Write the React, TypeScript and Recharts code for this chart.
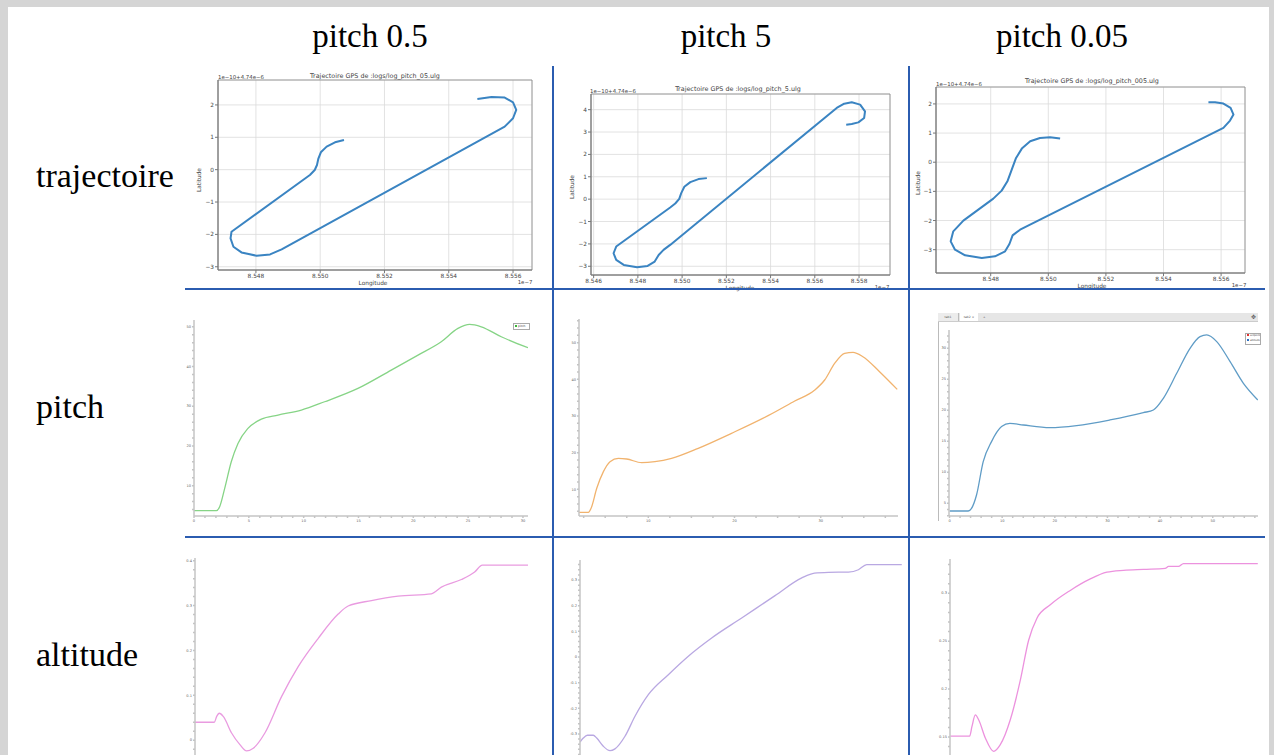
import React from 'react';
import { LineChart, Line, XAxis, YAxis, CartesianGrid, ReferenceArea } from 'recharts';

// --- row "trajectoire" (GPS, lon in 1e-7 units, lat offset 1e-10) ---
const traj05Lon = [8.55074, 8.55046, 8.5502, 8.55002, 8.54994, 8.5499, 8.54983, 8.54968, 8.54724, 8.54721, 8.5473, 8.54755, 8.54802, 8.54844, 8.5488, 8.55574, 8.556, 8.5561, 8.556, 8.55574, 8.55533, 8.55489];
const traj05Lat = [0.918, 0.845, 0.711, 0.536, 0.33, 0.144, -0.01, -0.165, -1.918, -2.124, -2.381, -2.557, -2.66, -2.619, -2.464, 1.33, 1.588, 1.845, 2.082, 2.227, 2.247, 2.186];

const traj5Lon = [8.55112, 8.55074, 8.55037, 8.5501, 8.54996, 8.54987, 8.54969, 8.54946, 8.54702, 8.5469, 8.54702, 8.54736, 8.54796, 8.54844, 8.54876, 8.54894, 8.54916, 8.54946, 8.55699, 8.55733, 8.55767, 8.55805, 8.55827, 8.55823, 8.55797, 8.55767, 8.55742];
const traj5Lat = [0.94, 0.896, 0.761, 0.552, 0.269, 0.015, -0.194, -0.373, -2.119, -2.418, -2.716, -2.94, -3.045, -2.985, -2.791, -2.493, -2.269, -2.045, 4.075, 4.269, 4.328, 4.224, 3.925, 3.627, 3.433, 3.358, 3.328];

const traj005Lon = [8.55041, 8.55006, 8.54971, 8.54937, 8.54908, 8.54888, 8.54873, 8.54858, 8.54838, 8.54809, 8.54705, 8.5467, 8.54661, 8.54676, 8.54711, 8.54769, 8.54815, 8.5485, 8.54865, 8.54876, 8.54902, 8.55608, 8.55631, 8.55643, 8.55633, 8.55608, 8.55579, 8.55556];
const traj005Lat = [0.81, 0.856, 0.833, 0.719, 0.467, 0.146, -0.254, -0.654, -0.975, -1.249, -2.005, -2.371, -2.714, -3.0, -3.195, -3.286, -3.229, -3.057, -2.805, -2.508, -2.314, 1.176, 1.428, 1.634, 1.863, 2.011, 2.057, 2.057];

// --- row "pitch" ---
const pitch05Time = [0, 2.04, 2.34, 2.8, 3.4, 4.01, 4.92, 6.14, 7.66, 9.79, 11.91, 14.95, 17.99, 20.43, 22.55, 24.07, 25.14, 26.2, 28.02, 30.46];
const pitch05Deg = [3.71, 3.71, 4.72, 9.33, 16.04, 20.65, 24.42, 26.77, 27.78, 29.04, 31.13, 34.49, 39.1, 42.87, 46.23, 49.58, 50.59, 50.0, 47.48, 44.72];

const pitch5Time = [1.97, 3.05, 3.36, 4.02, 4.79, 5.56, 6.53, 7.49, 9.23, 10.77, 12.7, 15.79, 19.65, 23.9, 26.99, 29.31, 30.46, 31.62, 32.78, 33.75, 34.9, 36.83, 38.88];
const pitch5Deg = [3.73, 3.73, 4.82, 10.27, 14.82, 17.55, 18.45, 18.27, 17.27, 17.55, 18.45, 21.18, 25.27, 30.09, 34.09, 37.09, 39.82, 44.36, 47.09, 47.36, 46.18, 42.09, 37.27];

const pitch005Time = [0, 3.55, 4.18, 5.13, 6.4, 7.98, 9.89, 11.47, 14.01, 19.07, 24.14, 30.48, 36.82, 38.72, 40.62, 43.16, 45.69, 47.59, 48.86, 50.76, 53.3, 55.83, 58.56];
const pitch005Deg = [3.76, 3.76, 4.19, 6.34, 11.72, 14.95, 17.37, 17.9, 17.63, 17.2, 17.53, 18.44, 19.62, 20.05, 21.94, 25.97, 30.0, 31.88, 32.15, 31.08, 27.85, 24.35, 21.67];

// --- row "altitude" ---
const alt05Time = [0, 1.76, 1.98, 2.22, 2.58, 3.34, 4.1, 4.71, 5.32, 6.38, 7.9, 9.42, 11.25, 13.07, 13.98, 16.11, 18.54, 21.58, 22.49, 24.32, 25.53, 26.23, 30.4];
const alt05M = [0.04, 0.04, 0.053, 0.06, 0.053, 0.016, -0.01, -0.024, -0.018, 0.016, 0.097, 0.164, 0.227, 0.281, 0.299, 0.311, 0.321, 0.326, 0.341, 0.358, 0.375, 0.39, 0.39];

const alt5Time = [2.0, 2.38, 2.84, 3.53, 3.92, 4.68, 5.45, 6.02, 7.17, 8.32, 9.85, 12.15, 14.45, 17.13, 20.58, 24.41, 27.48, 28.94, 30.54, 32.84, 33.99, 34.95, 38.97];
const alt5M = [-0.332, -0.316, -0.305, -0.305, -0.316, -0.348, -0.365, -0.358, -0.309, -0.231, -0.147, -0.069, 0.003, 0.074, 0.152, 0.239, 0.308, 0.327, 0.33, 0.331, 0.34, 0.36, 0.36];

const alt005Time = [0.06, 3.74, 4.18, 4.82, 5.45, 6.72, 8.3, 9.57, 11.47, 13.37, 14.96, 16.54, 19.08, 22.88, 26.69, 29.85, 33.02, 36.82, 40.94, 41.57, 43.47, 44.42, 58.56];
const alt005M = [0.151, 0.151, 0.161, 0.173, 0.168, 0.149, 0.135, 0.142, 0.168, 0.209, 0.251, 0.274, 0.288, 0.303, 0.315, 0.322, 0.324, 0.325, 0.326, 0.328, 0.328, 0.331, 0.331];

const columnTitles = ['pitch 0.5', 'pitch 5', 'pitch 0.05'];
const rowTitles = ['trajectoire', 'pitch', 'altitude'];
const gpsTicks005 = [8.548, 8.55, 8.552, 8.554, 8.556];
const gpsTicks5 = [8.546, 8.548, 8.55, 8.552, 8.554, 8.556, 8.558];

const SERIF = '"Liberation Serif", "Times New Roman", serif';
const SANS = '"DejaVu Sans", sans-serif';
const SEP = '#2b5cb0';

const range = (a: number, b: number, s: number) => {
  const out: number[] = [];
  for (let v = a; v <= b + 1e-9; v += s) out.push(Math.round(v * 1000) / 1000);
  return out;
};
const minus = (v: number) => (v < 0 ? '\u2212' + Math.abs(v) : String(v));

function Trajectory({ left, top, width, height, yAxisW, marginTop, lon, lat, xDomain, yDomain, xTicks, yTicks }: any) {
  const data = lon.map((x: number, i: number) => ({ lon: x, lat: lat[i] }));
  return (
    <div style={{ position: 'absolute', left, top }}>
      <LineChart width={width} height={height} data={data} margin={{ top: marginTop, right: 8, bottom: 0, left: 0 }}>
        <CartesianGrid stroke="#dadada" strokeWidth={0.8} />
        <XAxis
          dataKey="lon"
          type="number"
          domain={xDomain}
          ticks={xTicks}
          allowDataOverflow
          interval={0}
          height={20}
          tickFormatter={(v: number) => v.toFixed(3)}
          tick={{ fontSize: 5.8, fill: '#444', fontFamily: 'DejaVu Sans' }}
          tickSize={3}
          tickMargin={1}
          stroke="#777"
        />
        <YAxis
          type="number"
          domain={yDomain}
          ticks={yTicks}
          allowDataOverflow
          interval={0}
          width={yAxisW}
          tickFormatter={minus}
          tick={{ fontSize: 5.8, fill: '#444', fontFamily: 'DejaVu Sans' }}
          tickSize={3}
          tickMargin={1}
          stroke="#777"
        />
        <ReferenceArea x1={xDomain[0]} x2={xDomain[1]} y1={yDomain[0]} y2={yDomain[1]} fill="none" stroke="#888" strokeWidth={0.8} ifOverflow="extendDomain" />
        <Line dataKey="lat" type="linear" stroke="#3a84c2" strokeWidth={2} strokeLinejoin="round" dot={false} isAnimationActive={false} />
      </LineChart>
    </div>
  );
}

function tickFor(major: number[], side: 'x' | 'y') {
  return (props: any) => {
    const { x, y, payload } = props;
    const v = payload.value;
    if (!major.some((m) => Math.abs(m - v) < 1e-6)) return <g />;
    return side === 'y' ? (
      <text x={x} y={y} dy={1.2} textAnchor="end" fontSize={3.6} fill="#666" fontFamily="DejaVu Sans">{String(v)}</text>
    ) : (
      <text x={x} y={y} dy={3} textAnchor="middle" fontSize={3.6} fill="#666" fontFamily="DejaVu Sans">{String(v)}</text>
    );
  };
}

function Series({ left, top, width, height, yAxisW, marginTop, marginRight = 4, xs, ys, xDomain, yDomain, xTicks, xMajor, yTicks, yMajor, color, hideX }: any) {
  const data = xs.map((x: number, i: number) => ({ t: x, v: ys[i] }));
  return (
    <div style={{ position: 'absolute', left, top }}>
      <LineChart width={width} height={height} data={data} margin={{ top: marginTop, right: marginRight, bottom: 0, left: 0 }}>
        <XAxis
          dataKey="t"
          type="number"
          domain={xDomain}
          allowDataOverflow
          hide={hideX}
          ticks={xTicks || []}
          interval={0}
          height={hideX ? 0 : 10}
          tick={tickFor(xMajor || [], 'x')}
          tickSize={2}
          tickMargin={1}
          stroke="#c4c4c4"
          strokeWidth={1.5}
        />
        <YAxis
          type="number"
          domain={yDomain}
          allowDataOverflow
          ticks={yTicks}
          interval={0}
          width={yAxisW}
          tick={tickFor(yMajor, 'y')}
          tickSize={2}
          tickMargin={1}
          stroke="#c4c4c4"
          strokeWidth={1.5}
        />
        <Line dataKey="v" type="monotone" stroke={color} strokeWidth={1.3} dot={false} isAnimationActive={false} />
      </LineChart>
    </div>
  );
}

const small = (extra: any): React.CSSProperties => ({
  position: 'absolute',
  fontFamily: SANS,
  fontSize: 6,
  color: '#444',
  whiteSpace: 'nowrap',
  lineHeight: 1,
  ...extra,
});

function GpsTexts({ file, title, offset, ylab, xlab, exp }: any) {
  return (
    <>
      <span style={small({ left: title[0], top: title[1], transform: 'translate(-50%,-50%)', fontSize: 6.4 })}>
        Trajectoire GPS de :logs/{file}
      </span>
      <span style={small({ left: offset[0], top: offset[1], transform: 'translateY(-50%)', fontSize: 5.4 })}>1e−10+4.74e−6</span>
      <span style={small({ left: ylab[0], top: ylab[1], transform: 'translate(-50%,-50%) rotate(-90deg)', fontSize: 5.8 })}>Latitude</span>
      <span style={small({ left: xlab[0], top: xlab[1], transform: 'translate(-50%,-50%)', fontSize: 5.8 })}>Longitude</span>
      <span style={small({ left: exp[0], top: exp[1], transform: 'translate(-50%,-50%)', fontSize: 5.4 })}>1e−7</span>
    </>
  );
}

export default function App() {
  const headerX = [370, 726, 1062];
  const rowY = [187, 418, 666];
  return (
    <div style={{ position: 'fixed', left: 0, top: 0, width: 1274, height: 755, overflow: 'hidden', background: '#d5d5d5' }}>
      <div style={{ position: 'absolute', left: 8, top: 7, width: 1261, height: 760, background: '#fff' }} />

      {columnTitles.map((t, i) => (
        <div key={t} style={{ position: 'absolute', left: headerX[i], top: 48 - 27.6, transform: 'translateX(-50%)', fontFamily: SERIF, fontSize: 33, lineHeight: '33px', whiteSpace: 'nowrap', color: '#000' }}>
          {t}
        </div>
      ))}
      {rowTitles.map((t, i) => (
        <div key={t} style={{ position: 'absolute', left: 36, top: rowY[i] - 28.4, fontFamily: SERIF, fontSize: 34, lineHeight: '34px', whiteSpace: 'nowrap', color: '#000' }}>
          {t}
        </div>
      ))}

      <Trajectory left={185} top={65} width={355} height={225} yAxisW={33} marginTop={15}
        lon={traj05Lon} lat={traj05Lat} xDomain={[8.54682, 8.55659]} yDomain={[-3.1, 2.77]}
        xTicks={gpsTicks005} yTicks={[-3, -2, -1, 0, 1, 2]} />
      <GpsTexts file="log_pitch_05.ulg" title={[375, 76]} offset={[218, 77.5]} ylab={[200, 180]} xlab={[373, 284]} exp={[525, 283]} />

      <Trajectory left={560} top={65} width={338} height={230} yAxisW={31} marginTop={29}
        lon={traj5Lon} lat={traj5Lat} xDomain={[8.54588, 8.5594]} yDomain={[-3.39, 4.7]}
        xTicks={gpsTicks5} yTicks={[-3, -2, -1, 0, 1, 2, 3, 4]} />
      <GpsTexts file="log_pitch_5.ulg" title={[738, 89]} offset={[590, 91.5]} ylab={[573, 187]} xlab={[740, 289]} exp={[882, 288]} />

      <Trajectory left={910} top={65} width={343} height={228} yAxisW={26} marginTop={22}
        lon={traj005Lon} lat={traj005Lat} xDomain={[8.5461, 8.55683]} yDomain={[-3.8, 2.58]}
        xTicks={gpsTicks005} yTicks={[-3, -2, -1, 0, 1, 2]} />
      <GpsTexts file="log_pitch_005.ulg" title={[1092, 81]} offset={[936, 84.5]} ylab={[919, 183]} xlab={[1092, 287]} exp={[1239, 286]} />

      <Series left={185} top={300} width={347} height={226} yAxisW={9} marginTop={20}
        xs={pitch05Time} ys={pitch05Deg} xDomain={[0, 30.46]} yDomain={[2.38, 51.7]}
        xTicks={range(0, 30, 1)} xMajor={[0, 5, 10, 15, 20, 25, 30]}
        yTicks={range(4, 50, 2)} yMajor={[10, 20, 30, 40, 50]} color="#86d486" />
      <div style={{ position: 'absolute', left: 513, top: 323, width: 15, height: 5, border: '0.5px solid #aaa', background: '#fff', fontFamily: SANS, fontSize: 3, lineHeight: '5px', color: '#444', overflow: 'hidden', whiteSpace: 'nowrap' }}>
        <span style={{ display: 'inline-block', width: 2, height: 2, background: '#39b539', marginLeft: 1, marginRight: 1 }} />pitch
      </div>

      <Series left={560} top={300} width={342} height={226} yAxisW={19} marginTop={19}
        xs={pitch5Time} ys={pitch5Deg} xDomain={[1.96, 38.97]} yDomain={[2.72, 56.46]}
        xTicks={range(2.5, 37.5, 2.5)} xMajor={[10, 20, 30]}
        yTicks={range(4, 56, 2)} yMajor={[10, 20, 30, 40, 50]} color="#f1b36e" />

      <div style={{ position: 'absolute', left: 938, top: 313, width: 320, height: 208, borderLeft: '1px solid #bbb' }} />
      <div style={{ position: 'absolute', left: 938, top: 313, width: 320, height: 8, background: '#e6e6e6', borderBottom: '0.5px solid #ccc', fontFamily: SANS, fontSize: 3, color: '#555' }}>
        <span style={{ position: 'absolute', left: 0, top: 0, width: 20, height: 8, lineHeight: '8px', textAlign: 'center', background: '#ececec', borderRight: '0.5px solid #bbb' }}>tab1</span>
        <span style={{ position: 'absolute', left: 22, top: 0, width: 18, height: 8, lineHeight: '8px', textAlign: 'center', background: '#fff' }}>tab2 ×</span>
        <span style={{ position: 'absolute', left: 45, top: 0, height: 8, lineHeight: '8px' }}>+</span>
        <span style={{ position: 'absolute', right: 2, top: 0, height: 8, lineHeight: '8px', fontSize: 6 }}>✥</span>
      </div>
      <Series left={938} top={300} width={320} height={226} yAxisW={11} marginTop={30} marginRight={0}
        xs={pitch005Time} ys={pitch005Deg} xDomain={[-0.1, 58.6]} yDomain={[2.95, 32.95]}
        xTicks={range(0, 58, 2)} xMajor={[0, 10, 20, 30, 40, 50]}
        yTicks={range(3, 32, 1)} yMajor={[5, 10, 15, 20, 25, 30]} color="#5f9cc6" />
      <div style={{ position: 'absolute', left: 1245, top: 333, width: 14, height: 10, border: '0.5px solid #aaa', background: '#fff', fontFamily: SANS, fontSize: 2.6, lineHeight: '4.5px', color: '#444', overflow: 'hidden', whiteSpace: 'nowrap' }}>
        <div><span style={{ display: 'inline-block', width: 2, height: 2, background: '#d33', marginLeft: 1, marginRight: 1 }} />setpoint</div>
        <div><span style={{ display: 'inline-block', width: 2, height: 2, background: '#2b6fc4', marginLeft: 1, marginRight: 1 }} />attitude</div>
      </div>

      <Series left={185} top={545} width={347} height={210} yAxisW={10} marginTop={13} hideX
        xs={alt05Time} ys={alt05M} xDomain={[0, 30.4]} yDomain={[-0.033, 0.406]}
        yTicks={range(-0.02, 0.4, 0.02)} yMajor={[0, 0.1, 0.2, 0.3, 0.4]} color="#e99be0" />
      <Series left={560} top={545} width={346} height={210} yAxisW={20} marginTop={15} hideX
        xs={alt5Time} ys={alt5M} xDomain={[2, 39]} yDomain={[-0.382, 0.378]}
        yTicks={range(-0.38, 0.36, 0.02)} yMajor={[-0.3, -0.2, -0.1, 0, 0.1, 0.2, 0.3]} color="#b9a8e2" />
      <Series left={938} top={545} width={320} height={210} yAxisW={12} marginTop={14} marginRight={0} hideX
        xs={alt005Time} ys={alt005M} xDomain={[0, 58.6]} yDomain={[0.1312, 0.3358]}
        yTicks={range(0.14, 0.33, 0.01)} yMajor={[0.15, 0.2, 0.25, 0.3]} color="#ec92de" />

      <div style={{ position: 'absolute', left: 185, top: 288, width: 1080, height: 2, background: SEP }} />
      <div style={{ position: 'absolute', left: 185, top: 536, width: 1080, height: 2, background: SEP }} />
      <div style={{ position: 'absolute', left: 552, top: 66, width: 2, height: 700, background: SEP }} />
      <div style={{ position: 'absolute', left: 908, top: 66, width: 2, height: 700, background: SEP }} />
    </div>
  );
}
